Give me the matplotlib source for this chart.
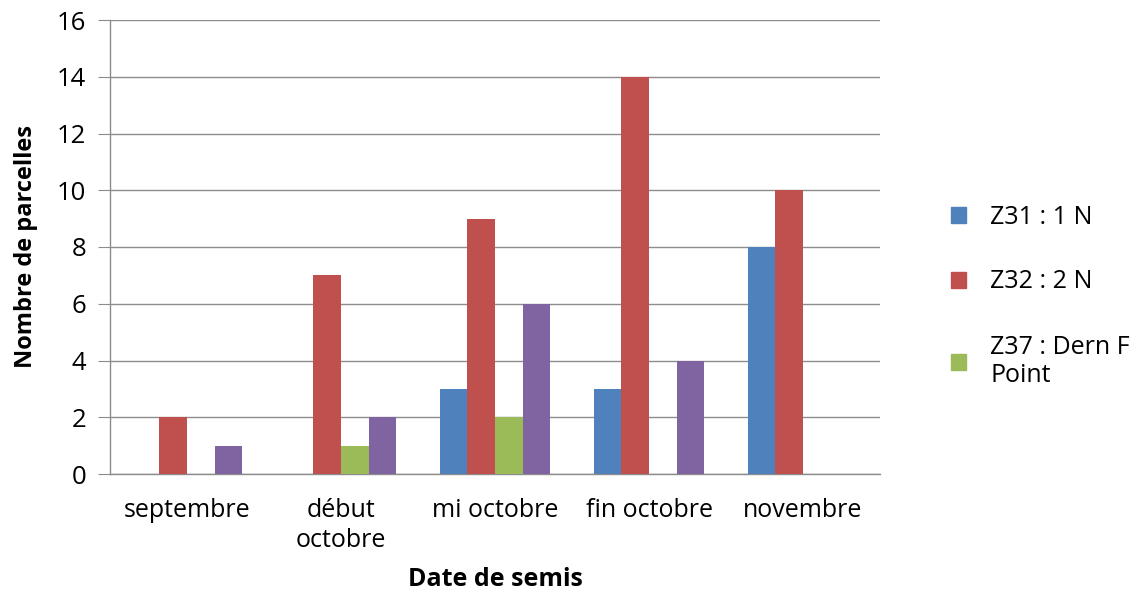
import matplotlib
matplotlib.use("Agg")
import matplotlib.pyplot as plt
import numpy as np
from matplotlib.patches import Patch

plt.rcParams["font.family"] = ["Open Sans", "DejaVu Sans"]

categories = ["septembre", "début\noctobre", "mi octobre", "fin octobre", "novembre"]
series_names = ["Z31 : 1 N", "Z32 : 2 N", "Z37 : Dern F\nPoint", "Z39"]
z31 = [0, 0, 3, 3, 8]
z32 = [2, 7, 9, 14, 10]
z37 = [0, 1, 2, 0, 0]
z39 = [1, 2, 6, 4, 0]
COLORS = ["#4F81BD", "#C0504D", "#9BBB59", "#8064A2"]

fig = plt.figure(figsize=(11.43, 5.91), dpi=100)
ax = fig.add_axes([110 / 1143, 1 - 474 / 591, 770 / 1143, 454 / 591])

x = np.arange(len(categories))
w = 0.18
for i, vals in enumerate([z31, z32, z37, z39]):
    ax.bar(x + (i - 1.5) * w, vals, width=w, color=COLORS[i], zorder=3)

ax.set_xlim(-0.5, len(categories) - 0.5)
ax.set_ylim(0, 16)
ax.set_yticks(range(0, 17, 2))
ax.yaxis.grid(True, color="#8c8c8c", lw=1.0, zorder=0)
ax.set_axisbelow(True)
for s in ["top", "right"]:
    ax.spines[s].set_visible(False)
for s in ["left", "bottom"]:
    ax.spines[s].set_color("#8c8c8c")
    ax.spines[s].set_linewidth(1.0)
ax.tick_params(axis="y", length=9, color="#8c8c8c", labelsize=18.5, pad=8)
ax.tick_params(axis="x", length=0, labelsize=18, pad=17)
ax.set_xticks(x)
ax.set_xticklabels(categories, linespacing=1.3)

ax.set_ylabel("Nombre de parcelles", fontsize=17, fontweight="bold", labelpad=14)
fig.text(495 / 1143, 1 - 580 / 591, "Date de semis", fontsize=18,
         fontweight="bold", ha="center", va="center")

handles = [Patch(color=COLORS[i]) for i in range(3)]
fig.legend(handles, series_names[:3], loc="upper left",
           bbox_to_anchor=(928 / 1143, 1 - 182 / 591), frameon=False,
           fontsize=18, handlelength=0.6, handleheight=0.6,
           labelspacing=1.6, handletextpad=1.0)

fig.savefig("out.png", dpi=100)
